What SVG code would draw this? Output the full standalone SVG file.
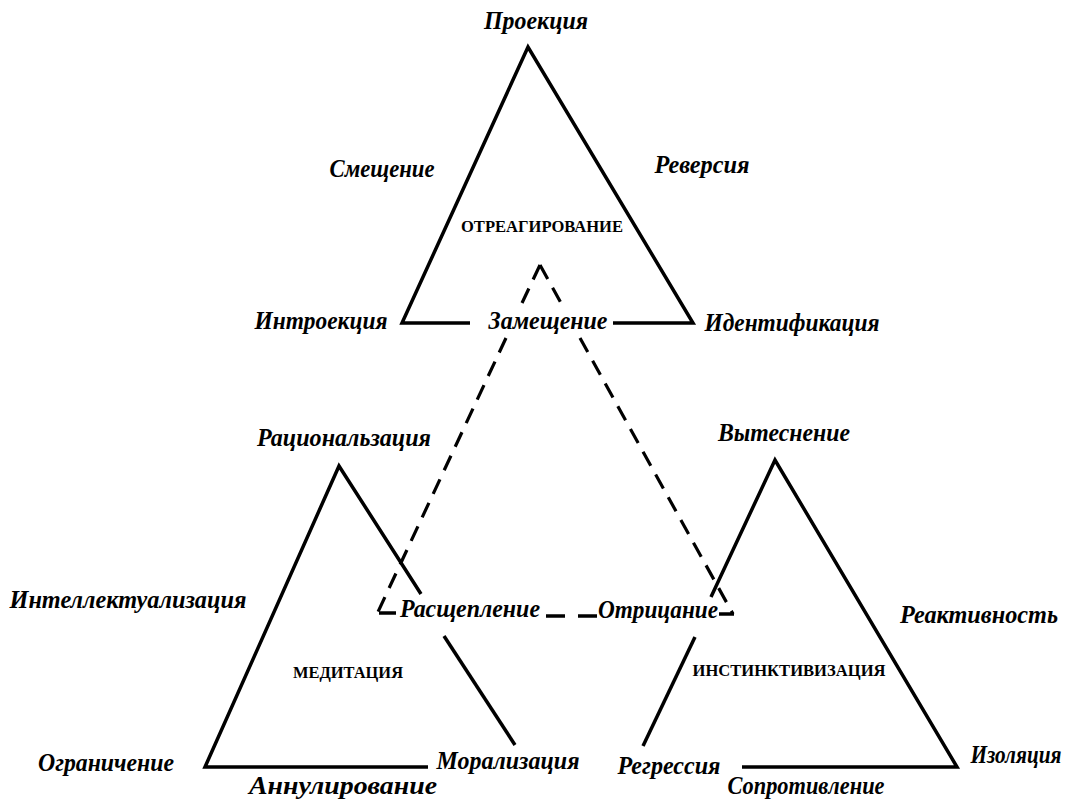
<svg xmlns="http://www.w3.org/2000/svg" width="1076" height="800" viewBox="0 0 1076 800">
<style>
.solid{fill:none;stroke:#000;stroke-width:3.5;stroke-linecap:butt;stroke-linejoin:miter}
.dash{fill:none;stroke:#000;stroke-width:3.2;stroke-dasharray:16 10}
.seg{fill:none;stroke:#000;stroke-width:3.5}
.lbl{font-family:"Liberation Serif","DejaVu Serif",serif;font-weight:bold;font-style:italic;font-size:25px;fill:#000;text-anchor:middle}
.cap{font-family:"Liberation Serif","DejaVu Serif",serif;font-weight:bold;font-size:17px;fill:#000;text-anchor:middle}
</style>
<rect width="1076" height="800" fill="#fff"/>
<g id="connectors">
<path class="dash" d="M540,265 L522,303 M506,338 L377,614"/>
<path class="dash" d="M540,265 L561,303 M580,338 L733,614"/>
<path class="seg" d="M379,613 H396"/>
<path class="seg" d="M546,616 H565 M578,616 H597"/>
<path class="seg" d="M719,614 H734"/>
</g>
<g id="node-top">
<path class="solid" d="M470,323 H402 L528,47 L693,323 H613"/>
<text class="cap" x="542" y="232" textLength="162" lengthAdjust="spacingAndGlyphs">ОТРЕАГИРОВАНИЕ</text>
<text class="lbl" x="536" y="29" textLength="104" lengthAdjust="spacingAndGlyphs">Проекция</text>
<text class="lbl" x="382" y="177" textLength="105" lengthAdjust="spacingAndGlyphs">Смещение</text>
<text class="lbl" x="702" y="173" textLength="95" lengthAdjust="spacingAndGlyphs">Реверсия</text>
<text class="lbl" x="321" y="329" textLength="133" lengthAdjust="spacingAndGlyphs">Интроекция</text>
<text class="lbl" x="548" y="329" textLength="119" lengthAdjust="spacingAndGlyphs">Замещение</text>
<text class="lbl" x="792" y="331" textLength="175" lengthAdjust="spacingAndGlyphs">Идентификация</text>
</g>
<g id="node-left">
<path class="solid" d="M421,594 L339,466 L205,767 H428"/>
<path class="solid" d="M444,636 L515,745"/>
<text class="cap" x="348" y="678" textLength="110" lengthAdjust="spacingAndGlyphs">МЕДИТАЦИЯ</text>
<text class="lbl" x="344" y="446" textLength="174" lengthAdjust="spacingAndGlyphs">Рациональзация</text>
<text class="lbl" x="128" y="608" textLength="237" lengthAdjust="spacingAndGlyphs">Интеллектуализация</text>
<text class="lbl" x="470" y="617" textLength="140" lengthAdjust="spacingAndGlyphs">Расщепление</text>
<text class="lbl" x="106" y="771" textLength="136" lengthAdjust="spacingAndGlyphs">Ограничение</text>
<text class="lbl" x="508" y="769" textLength="143" lengthAdjust="spacingAndGlyphs">Морализация</text>
<text class="lbl" x="343" y="794" textLength="188" lengthAdjust="spacingAndGlyphs">Аннулирование</text>
</g>
<g id="node-right">
<path class="solid" d="M711,597 L775,460 L957,767 H742"/>
<path class="solid" d="M695,637 L643,746"/>
<text class="cap" x="789" y="676" textLength="193" lengthAdjust="spacingAndGlyphs">ИНСТИНКТИВИЗАЦИЯ</text>
<text class="lbl" x="784" y="441" textLength="132" lengthAdjust="spacingAndGlyphs">Вытеснение</text>
<text class="lbl" x="658" y="618" textLength="120" lengthAdjust="spacingAndGlyphs">Отрицание</text>
<text class="lbl" x="979" y="623" textLength="158" lengthAdjust="spacingAndGlyphs">Реактивность</text>
<text class="lbl" x="669" y="774" textLength="103" lengthAdjust="spacingAndGlyphs">Регрессия</text>
<text class="lbl" x="1016" y="763" textLength="91" lengthAdjust="spacingAndGlyphs">Изоляция</text>
<text class="lbl" x="806" y="794" textLength="157" lengthAdjust="spacingAndGlyphs">Сопротивление</text>
</g>
</svg>
